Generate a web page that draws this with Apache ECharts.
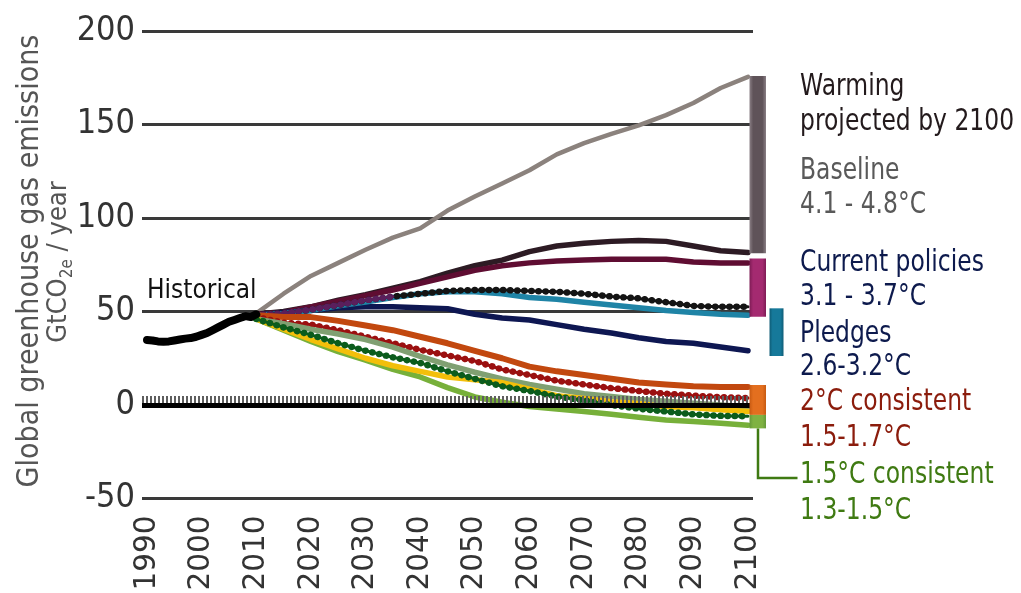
<!DOCTYPE html>
<html>
<head>
<meta charset="utf-8">
<script src="https://cdn.jsdelivr.net/npm/echarts@6/dist/echarts.min.js"></script>
<style>
html, body { margin: 0; padding: 0; background: #ffffff; }
#chart { width: 1021px; height: 593px; }
</style>
</head>
<body>
<div id="chart"></div>
<script>
// Global greenhouse gas emissions (GtCO2e / year): history and scenario pathways to 2100

const yearTicks = [1990, 2000, 2010, 2020, 2030, 2040, 2050, 2060, 2070, 2080, 2090, 2100];
const emissionTicks = [-50, 0, 50, 100, 150, 200];

const histYears = [1990, 1991, 1992, 1993, 1994, 1995, 1996, 1997, 1998, 1999, 2000,
                   2001, 2002, 2003, 2004, 2005, 2006, 2007, 2008, 2009, 2010];
const histValues = [34.8, 34.5, 34, 33.8, 34, 34.5, 35, 35.5, 35.8, 36.5, 37.5,
                    38.5, 40, 41.5, 43, 44.5, 45.5, 46.5, 47.5, 47, 48.5];

const scenarioYears = [2010, 2015, 2020, 2025, 2030, 2035, 2040, 2045, 2050, 2055,
                       2060, 2065, 2070, 2075, 2080, 2085, 2090, 2095, 2100];

// Baseline
const baselineHigh = [49, 59.5, 69, 76, 83, 89.5, 94.5, 104, 111.5, 118.5, 125.5, 134, 140, 145, 149.5, 155, 161.5, 169.5, 175.5];
const baselineLow = [48.5, 50, 52.5, 56, 59, 62.5, 66, 70.5, 74.5, 77.5, 82, 85, 86.5, 87.5, 88, 87.5, 85, 82.5, 81.5];
// Current policies
const policiesHigh = [48.5, 49.5, 52.5, 55.5, 58.5, 61.5, 65, 68.5, 72, 74.5, 76, 77, 77.5, 78, 78, 78, 76.5, 76, 76];
const policiesLow = [48, 49, 51, 53.5, 56, 58, 59.5, 61, 61.5, 61.5, 61, 60.5, 59.5, 58, 57, 55, 53, 52.5, 52.5];
// Pledges
const pledgesHigh = [48, 49, 50.5, 53, 55, 57.5, 59.5, 60.5, 60.5, 59.5, 57.5, 56.5, 55, 53.5, 52, 50.5, 49.5, 48.5, 48];
const pledgesLow = [48, 49.5, 50.5, 52, 52.5, 52.5, 52, 51.5, 48.5, 46.5, 45.5, 43, 40.5, 38.5, 36, 34, 33, 31, 29];
// 2 °C consistent
const twoDegHigh = [48, 47, 47, 45, 42.5, 40, 36.5, 33, 29, 25, 20.5, 18, 16, 14, 12, 11, 10, 9.6, 9.6];
const twoDegLow = [47, 44, 43, 40, 36.5, 33, 29.5, 26.5, 23.5, 19, 16, 13, 11, 9, 7.5, 6, 5, 4.2, 3.7];
const twoDegMid = [46, 43.5, 40.5, 38, 35, 31, 26, 21.5, 17.5, 14, 11, 8.5, 6, 4.5, 3, 2, 1, 0, -1];
// 1.5 °C consistent
const onePointFiveHigh = [46, 40.5, 35, 30, 25, 21, 18, 15, 13.5, 12, 8.5, 5, 3.5, 1.7, 0.8, -1, -1.5, -2.5, -3.5];
const onePointFiveMid = [46, 41.5, 37.5, 33, 29, 25.5, 22.5, 18, 14, 10, 7.5, 4.5, 2.5, 0, -2, -3.5, -5, -5.8, -6];
const onePointFiveLow = [46, 40, 34, 28.5, 24, 19, 15, 9.3, 4.3, 1.5, -0.8, -2.2, -3.5, -5, -6.6, -8, -8.8, -9.8, -10.8];

// Projected 2100 ranges: baseline, current policies, pledges, 2 °C, 1.5 °C
const rangeLow = [81.2, 47.2, 26.2, -5.3, -12.5];
const rangeHigh = [176, 78.4, 51.7, 10.7, -5.3];

const xMin = 1989.085;
const xMax = 2100.915;

function pairs(xs, ys) { return ys.map((v, i) => [xs[i], v]); }

function solid(name, values, color, width, xs) {
  return {
    name, type: 'line', data: pairs(xs || scenarioYears, values),
    showSymbol: false, symbol: 'none', silent: true,
    lineStyle: { color, width, cap: 'round', join: 'round' }
  };
}

function dotted(name, values, color, xs) {
  return [
    {
      name, type: 'line', data: pairs(xs || scenarioYears, values),
      symbol: 'none', silent: true,
      lineStyle: { color, width: 3, cap: 'round', join: 'round' }
    },
    {
      name: name + ' dots', type: 'line', data: pairs(xs || scenarioYears, values),
      symbol: 'none', silent: true,
      lineStyle: { color, width: 6.5, type: [0.1, 7], cap: 'round', join: 'round' }
    }
  ];
}

function bevel(mid, edge) {
  return {
    type: 'linear', x: 0, y: 0, x2: 1, y2: 0,
    colorStops: [
      { offset: 0, color: edge }, { offset: 0.22, color: mid },
      { offset: 0.78, color: mid }, { offset: 1, color: edge }
    ]
  };
}

const rangeStyles = [
  { dx: 1.5, w: 16.5, fill: bevel('#5f5359', '#8a7f85') },
  { dx: 1.5, w: 16.5, fill: bevel('#a42a70', '#7e1c55') },
  { dx: 21.5, w: 14, fill: bevel('#16799a', '#0f5c76') },
  { dx: 1.5, w: 16.5, fill: bevel('#e36f1f', '#c75a12') },
  { dx: 1.5, w: 16.5, fill: bevel('#7fb242', '#66993a'), leader: { value: -39, dx: 8.5, toX: 48 } }
];

const rangeSeries = {
  name: 'Warming ranges', type: 'custom', coordinateSystem: 'cartesian2d',
  data: rangeLow.map((lo, i) => [2100, lo, rangeHigh[i], i]),
  encode: { x: 0, y: [1, 2] },
  clip: false, silent: true, z: 6,
  renderItem(params, api) {
    const i = api.value(3);
    const st = rangeStyles[i];
    const top = api.coord([2100, api.value(2)]);
    const bot = api.coord([2100, api.value(1)]);
    const x = top[0] + st.dx;
    const children = [{
      type: 'rect',
      shape: { x, y: top[1], width: st.w, height: bot[1] - top[1] },
      style: { fill: st.fill }
    }];
    if (st.leader) {
      const ly = api.coord([2100, st.leader.value])[1];
      const lx = x + st.leader.dx;
      children.push({
        type: 'polyline',
        shape: { points: [[lx, bot[1]], [lx, ly], [x + st.leader.toX, ly]] },
        style: { stroke: '#3f7a12', lineWidth: 2.5, fill: null }
      });
    }
    return { type: 'group', children };
  }
};

const guideSeries = {
  name: 'guides', type: 'line', data: [], silent: true, z: 1,
  markLine: {
    silent: true, symbol: 'none', animation: false,
    label: { show: false },
    data: [
      [{ coord: [xMin, 2.6], lineStyle: { color: '#5e5e5e', width: 8, type: [2, 2], cap: 'butt' } },
       { coord: [2100, 2.6] }],
      [{ coord: [xMin, 0], lineStyle: { color: '#000000', width: 5, type: 'solid', cap: 'butt' } },
       { coord: [xMax, 0] }]
    ]
  }
};

const series = [
  guideSeries,
  solid('Baseline high', baselineHigh, '#8b827d', 4.5),
  solid('Baseline low', baselineLow, '#2d1b24', 5.5),
  solid('Current policies high', policiesHigh, '#5f0d32', 5.5),
  solid('Pledges low', pledgesLow, '#0e1752', 5.5),
  solid('Pledges high', pledgesHigh, '#1f84a6', 5.5),
  ...dotted('Current policies low', policiesLow, '#141414'),
  ...dotted('Current policies low early', policiesLow.slice(0, 6), '#5a1f5c'),
  solid('2°C high', twoDegHigh, '#c2480f', 6),
  ...dotted('2°C low', twoDegLow, '#9b1010'),
  solid('2°C mid', twoDegMid, '#80a072', 5.5),
  solid('1.5°C low', onePointFiveLow, '#77b03a', 5.5),
  solid('1.5°C high', onePointFiveHigh, '#f3bf0a', 5.5),
  ...dotted('1.5°C mid', onePointFiveMid, '#0b5c1c'),
  solid('Historical', histValues, '#000000', 8, histYears),
  rangeSeries
];

const condensed = "'DejaVu Sans Condensed', 'Liberation Sans Narrow', sans-serif";
const plain = "'DejaVu Sans', sans-serif";

function note(text, y, color) {
  return {
    type: 'text', x: 800, y, scaleX: 0.795, silent: true,
    style: { text, fill: color, fontSize: 29.5, fontFamily: plain, align: 'left', verticalAlign: 'middle' }
  };
}

const graphics = [
  {
    type: 'text', x: 30, y: 261, rotation: Math.PI / 2, scaleX: 0.9, silent: true,
    style: { text: 'Global greenhouse gas emissions', fill: '#555555', fontSize: 30, fontFamily: plain,
             align: 'center', verticalAlign: 'middle' }
  },
  {
    type: 'text', x: 59, y: 262, rotation: Math.PI / 2, scaleX: 0.9, silent: true,
    style: {
      text: '{m|GtCO}{s|2e}{m| / year}', align: 'center', verticalAlign: 'middle',
      rich: {
        m: { fontSize: 27, fontFamily: plain, fill: '#555555', lineHeight: 34, verticalAlign: 'middle' },
        s: { fontSize: 17, fontFamily: plain, fill: '#555555', lineHeight: 34, verticalAlign: 'bottom' }
      }
    }
  },
  {
    type: 'text', x: 147, y: 291, scaleX: 0.9, silent: true,
    style: { text: 'Historical', fill: '#111111', fontSize: 26, fontFamily: plain, align: 'left', verticalAlign: 'middle' }
  },
  note('Warming', 87, '#231a1c'),
  note('projected by 2100', 122, '#231a1c'),
  note('Baseline', 171, '#595959'),
  note('4.1 - 4.8°C', 205, '#595959'),
  note('Current policies', 263, '#0d1a4d'),
  note('3.1 - 3.7°C', 297, '#0d1a4d'),
  note('Pledges', 334, '#0d1a4d'),
  note('2.6-3.2°C', 367, '#0d1a4d'),
  note('2°C consistent', 402, '#8b1c0c'),
  note('1.5-1.7°C', 438, '#8b1c0c'),
  note('1.5°C consistent', 475, '#3f7a12'),
  note('1.3-1.5°C', 511, '#3f7a12')
];

const chart = echarts.init(document.getElementById('chart'), null, { renderer: 'canvas' });
chart.setOption({
  animation: false,
  backgroundColor: '#ffffff',
  grid: { left: 142, right: 268, top: 31, bottom: 94.5, containLabel: false, outerBoundsMode: 'none' },
  xAxis: {
    type: 'value', min: xMin, max: xMax,
    axisLine: { show: false }, axisTick: { show: false }, splitLine: { show: false },
    axisLabel: {
      customValues: yearTicks, rotate: 90, margin: 17,
      fontSize: 29.5, fontFamily: plain, color: '#333333',
      formatter: v => String(v)
    }
  },
  yAxis: {
    type: 'value', min: emissionTicks[0], max: emissionTicks[emissionTicks.length - 1], interval: 50,
    axisLine: { show: false }, axisTick: { show: false },
    splitLine: { show: true, lineStyle: { color: '#3a3a3a', width: 3 } },
    axisLabel: { margin: 7, fontSize: 34, fontFamily: condensed, color: '#333333' }
  },
  series,
  graphic: graphics
});
</script>
</body>
</html>
